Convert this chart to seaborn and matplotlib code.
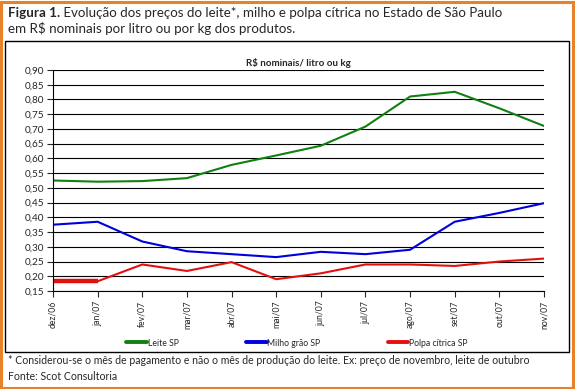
import matplotlib.pyplot as plt
import matplotlib.patches as mpatches
from matplotlib.ticker import FuncFormatter, MultipleLocator
import pandas as pd
import seaborn as sns

# Data
meses = ['dez/06', 'jan/07', 'fev/07', 'mar/07', 'abr/07', 'mai/07',
         'jun/07', 'jul/07', 'ago/07', 'set/07', 'out/07', 'nov/07']
leite = [0.525, 0.521, 0.523, 0.533, 0.578, 0.610, 0.643, 0.708, 0.810, 0.826, 0.770, 0.710]
milho = [0.375, 0.385, 0.318, 0.285, 0.275, 0.265, 0.283, 0.275, 0.290, 0.385, 0.415, 0.448]
polpa = [0.183, 0.183, 0.240, 0.218, 0.248, 0.190, 0.210, 0.240, 0.240, 0.235, 0.250, 0.260]

series = ['Leite SP', 'Milho grão SP', 'Polpa cítrica SP']
cores = ['#118011', '#0000dd', '#e31010']

df = pd.DataFrame({'mes': meses, 'Leite SP': leite,
                   'Milho grão SP': milho, 'Polpa cítrica SP': polpa})
df['x'] = range(len(meses))
df_long = df.melt(id_vars=['mes', 'x'], value_vars=series,
                  var_name='serie', value_name='valor')

sns.set_style('white')
plt.rcParams['font.family'] = ['Lato', 'DejaVu Sans']

fig = plt.figure(figsize=(5.75, 3.89), dpi=100)
fig.patch.set_facecolor('white')

# orange outer frame
fig.patches.append(mpatches.Rectangle((0.002, 0.003), 0.994, 0.993, transform=fig.transFigure,
                                      fill=False, edgecolor='#e8822a', linewidth=2.2))
# black inner box
fig.patches.append(mpatches.Rectangle((5 / 575, 1 - 352 / 389), 564 / 575, 311 / 389,
                                      transform=fig.transFigure, fill=False,
                                      edgecolor='black', linewidth=1.0))

ax = fig.add_axes([53 / 575, 1 - 291 / 389, 491 / 575, 221 / 389])

# heading
t1 = fig.text(8 / 575, 1 - 17 / 389, 'Figura 1.', fontsize=9.6, fontweight='bold',
              va='baseline', ha='left')
ax.annotate(' Evolução dos preços do leite*, milho e polpa cítrica no Estado de São Paulo',
            xy=(1, 0), xycoords=t1, fontsize=9.6, va='bottom', ha='left',
            annotation_clip=False)
fig.text(8 / 575, 1 - 33 / 389, 'em R$ nominais por litro ou por kg dos produtos.',
         fontsize=9.6, va='baseline', ha='left')

sns.lineplot(data=df_long, x='x', y='valor', hue='serie', palette=cores,
             linewidth=1.5, ax=ax, legend=False)
# thicker first red segment
ax.plot(df['x'][:2], df['Polpa cítrica SP'][:2], color=cores[2], linewidth=3.2,
        solid_capstyle='butt')

ax.set_xlim(0, len(meses) - 1)
ax.set_ylim(0.15, 0.90)
ax.yaxis.set_major_locator(MultipleLocator(0.05))
ax.yaxis.set_major_formatter(FuncFormatter(lambda v, p: f'{v:.2f}'.replace('.', ',')))
ax.set_xticks(df['x'])
ax.set_xticklabels(meses, rotation=90, fontsize=6.2)
ax.tick_params(axis='y', labelsize=7.2, direction='out', length=4, width=0.8, pad=2, left=True)
ax.tick_params(axis='x', direction='out', length=4, width=0.8, pad=3, bottom=True)
ax.grid(axis='y', color='black', linewidth=0.8)
ax.grid(axis='x', visible=False)
for s in ['top', 'right']:
    ax.spines[s].set_visible(False)
for s in ['left', 'bottom']:
    ax.spines[s].set_color('black')
    ax.spines[s].set_linewidth(0.8)
ax.set_xlabel('')
ax.set_ylabel('')
ax.set_title('R$ nominais/ litro ou kg', fontsize=7, fontweight='bold', pad=3)

handles = [plt.Line2D([], [], color=c, linewidth=2.8) for c in cores]
fig.legend(handles, series, loc='center', bbox_to_anchor=(297 / 575, 1 - 343 / 389), ncol=3,
           frameon=False, fontsize=6.2, handlelength=2.4, handletextpad=0.1,
           columnspacing=7.8)

fig.text(8 / 575, 1 - 361 / 389,
         '* Considerou-se o mês de pagamento e não o mês de produção do leite. Ex: preço de novembro, leite de outubro',
         fontsize=7.6, va='center', ha='left')
fig.text(8 / 575, 1 - 376 / 389, 'Fonte: Scot Consultoria', fontsize=7.6, va='center', ha='left')

fig.savefig('out.png', dpi=100)
